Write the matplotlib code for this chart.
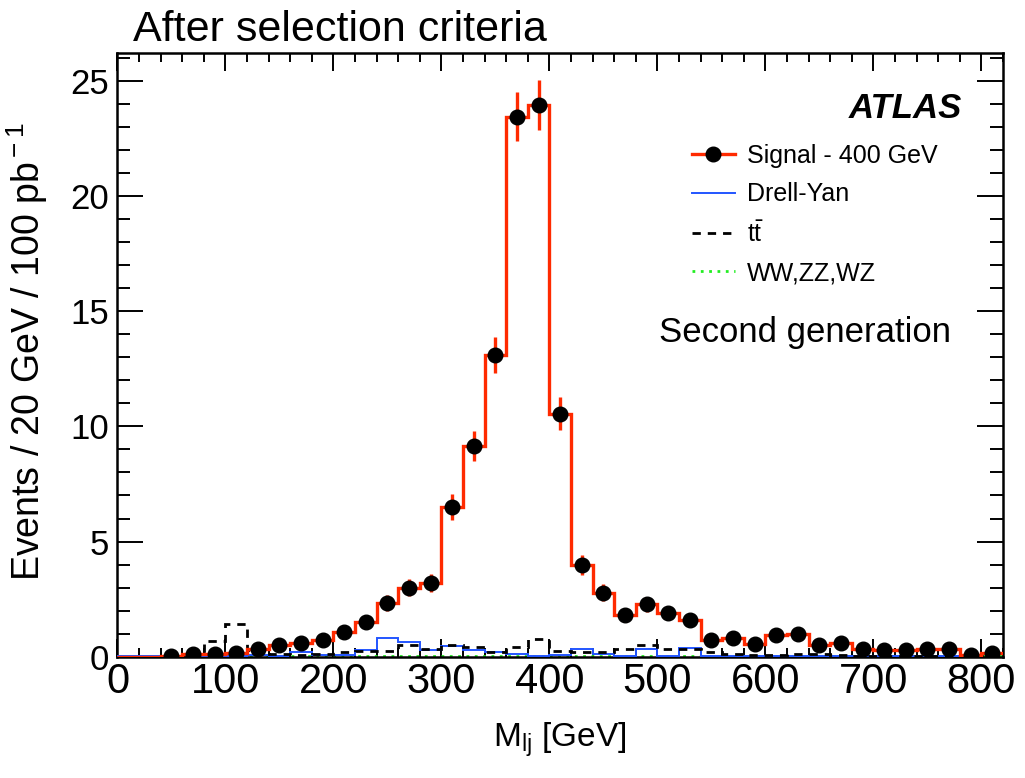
import numpy as np
import matplotlib
matplotlib.use("Agg")
import matplotlib.pyplot as plt
from matplotlib.lines import Line2D
from matplotlib.ticker import MultipleLocator

plt.rcParams['font.family'] = ['Liberation Sans', 'DejaVu Sans']
plt.rcParams['mathtext.fontset'] = 'custom'
plt.rcParams['mathtext.rm'] = 'Liberation Sans'
plt.rcParams['mathtext.it'] = 'Liberation Sans:italic'

# 20 GeV bins from 0 to 820 GeV
edges = np.arange(0, 821, 20)
centers = edges[:-1] + 10

# signal (400 GeV)
signal = [0.0, 0.0, 0.05, 0.1, 0.13, 0.18, 0.35, 0.49, 0.58, 0.73,
          1.09, 1.5, 2.33, 3.0, 3.22, 6.5, 9.15, 13.08, 23.45, 23.95,
          10.55, 3.98, 2.78, 1.8, 2.27, 1.9, 1.58, 0.73, 0.8, 0.57,
          0.95, 0.98, 0.5, 0.6, 0.34, 0.29, 0.29, 0.35, 0.32, 0.08, 0.16]
signal_err = [0.0, 0.0, 0.05, 0.07, 0.08, 0.1, 0.13, 0.15, 0.17, 0.19,
              0.23, 0.27, 0.33, 0.38, 0.39, 0.55, 0.66, 0.78, 1.05, 1.08,
              0.71, 0.43, 0.36, 0.3, 0.33, 0.3, 0.27, 0.19, 0.2, 0.17,
              0.22, 0.22, 0.16, 0.17, 0.13, 0.12, 0.12, 0.13, 0.12, 0.07, 0.09]

drell_yan = [0.02, 0.02, 0.02, 0.02, 0.03, 0.03, 0.07, 0.03, 0.22, 0.07,
             0.07, 0.28, 0.83, 0.63, 0.3, 0.47, 0.29, 0.22, 0.1, 0.05,
             0.07, 0.33, 0.1, 0.03, 0.35, 0.03, 0.39, 0.04, 0.03, 0.03,
             0.03, 0.04, 0.03, 0.05, 0.03, 0.02, 0.03, 0.02, 0.02, 0.03, 0.1]

ttbar = [0.0, 0.0, 0.03, 0.05, 0.68, 1.43, 0.3, 0.1, 0.08, 0.1,
         0.22, 0.24, 0.24, 0.51, 0.32, 0.53, 0.42, 0.2, 0.44, 0.77,
         0.24, 0.22, 0.2, 0.33, 0.52, 0.34, 0.32, 0.2, 0.12, 0.08,
         0.07, 0.1, 0.1, 0.06, 0.05, 0.05, 0.04, 0.05, 0.05, 0.03, 0.05]

diboson = [0.0, 0.0, 0.01, 0.01, 0.01, 0.01, 0.01, 0.01, 0.01, 0.01,
           0.01, 0.01, 0.01, 0.01, 0.01, 0.02, 0.01, 0.01, 0.01, 0.01,
           0.01, 0.03, 0.01, 0.01, 0.01, 0.01, 0.01, 0.01, 0.01, 0.01,
           0.01, 0.01, 0.01, 0.01, 0.01, 0.01, 0.01, 0.01, 0.01, 0.01, 0.01]

red = '#ff2a00'
blue = '#2255ff'
green = '#22ee22'

fig = plt.figure(figsize=(10.25, 7.78), dpi=100)
ax = fig.add_axes([0.1146, 0.1559, 0.8639, 0.7756])

ax.stairs(diboson, edges, color=green, lw=2, ls=(0, (1, 2)), baseline=None, zorder=2)
ax.stairs(drell_yan, edges, color=blue, lw=1.4, baseline=None, zorder=3)
ax.stairs(ttbar, edges, color='black', lw=2, ls=(0, (3, 2.5)), baseline=None, zorder=3)
ax.stairs(signal, edges, color=red, lw=2.4, baseline=None, zorder=4)

# empty bins get no marker
sig = np.array(signal)
err = np.array(signal_err)
filled = sig > 0
ax.errorbar(centers[filled], sig[filled], yerr=err[filled], fmt='o', color='black',
            ms=10.5, ecolor=red, elinewidth=2.4, capsize=0, zorder=5)

ax.set_xlim(0, 820)
ax.set_ylim(0, 26.2)
ax.xaxis.set_major_locator(MultipleLocator(100))
ax.xaxis.set_minor_locator(MultipleLocator(20))
ax.yaxis.set_major_locator(MultipleLocator(5))
ax.yaxis.set_minor_locator(MultipleLocator(1))
ax.tick_params(which='both', direction='in', top=True, right=True, width=1.4)
ax.tick_params(axis='x', which='major', length=13, labelsize=30, pad=4)
ax.tick_params(axis='x', which='minor', length=6.5)
ax.tick_params(axis='y', which='major', length=19, labelsize=25, pad=6)
ax.tick_params(axis='y', which='minor', length=9.5)
for s in ax.spines.values():
    s.set_linewidth(1.8)

fig.text(0.546, 0.049, r'M$_{\rm lj}$ [GeV]', fontsize=24, ha='center', va='center')
fig.text(0.027, 0.548, r'Events / 20 GeV / 100 pb$^{\rm -1}$', fontsize=27,
         rotation=90, ha='center', va='center')
fig.text(0.13, 0.961, 'After selection criteria', fontsize=31, ha='left', va='center')

ax.text(0.9537, 0.909, 'ATLAS', transform=ax.transAxes, fontsize=25,
        fontweight='bold', fontstyle='italic', ha='right', va='center')
ax.text(0.776, 0.538, 'Second generation', transform=ax.transAxes, fontsize=25,
        ha='center', va='center')

handles = [
    Line2D([], [], color=red, lw=2.4, marker='o', mfc='black', mec='black', ms=10.5),
    Line2D([], [], color=blue, lw=1.4),
    Line2D([], [], color='black', lw=2, ls=(0, (3, 2.5))),
    Line2D([], [], color=green, lw=2, ls=(0, (1, 2))),
]
labels = ['Signal - 400 GeV', 'Drell-Yan', r'$\mathrm{t\bar{t}}$', 'WW,ZZ,WZ']
ax.legend(handles, labels, loc='upper left', bbox_to_anchor=(0.649, 0.85),
          frameon=False, fontsize=18, handlelength=1.7, handletextpad=0.5,
          labelspacing=0.58, borderpad=0, borderaxespad=0)

fig.savefig('out.png', dpi=100)
